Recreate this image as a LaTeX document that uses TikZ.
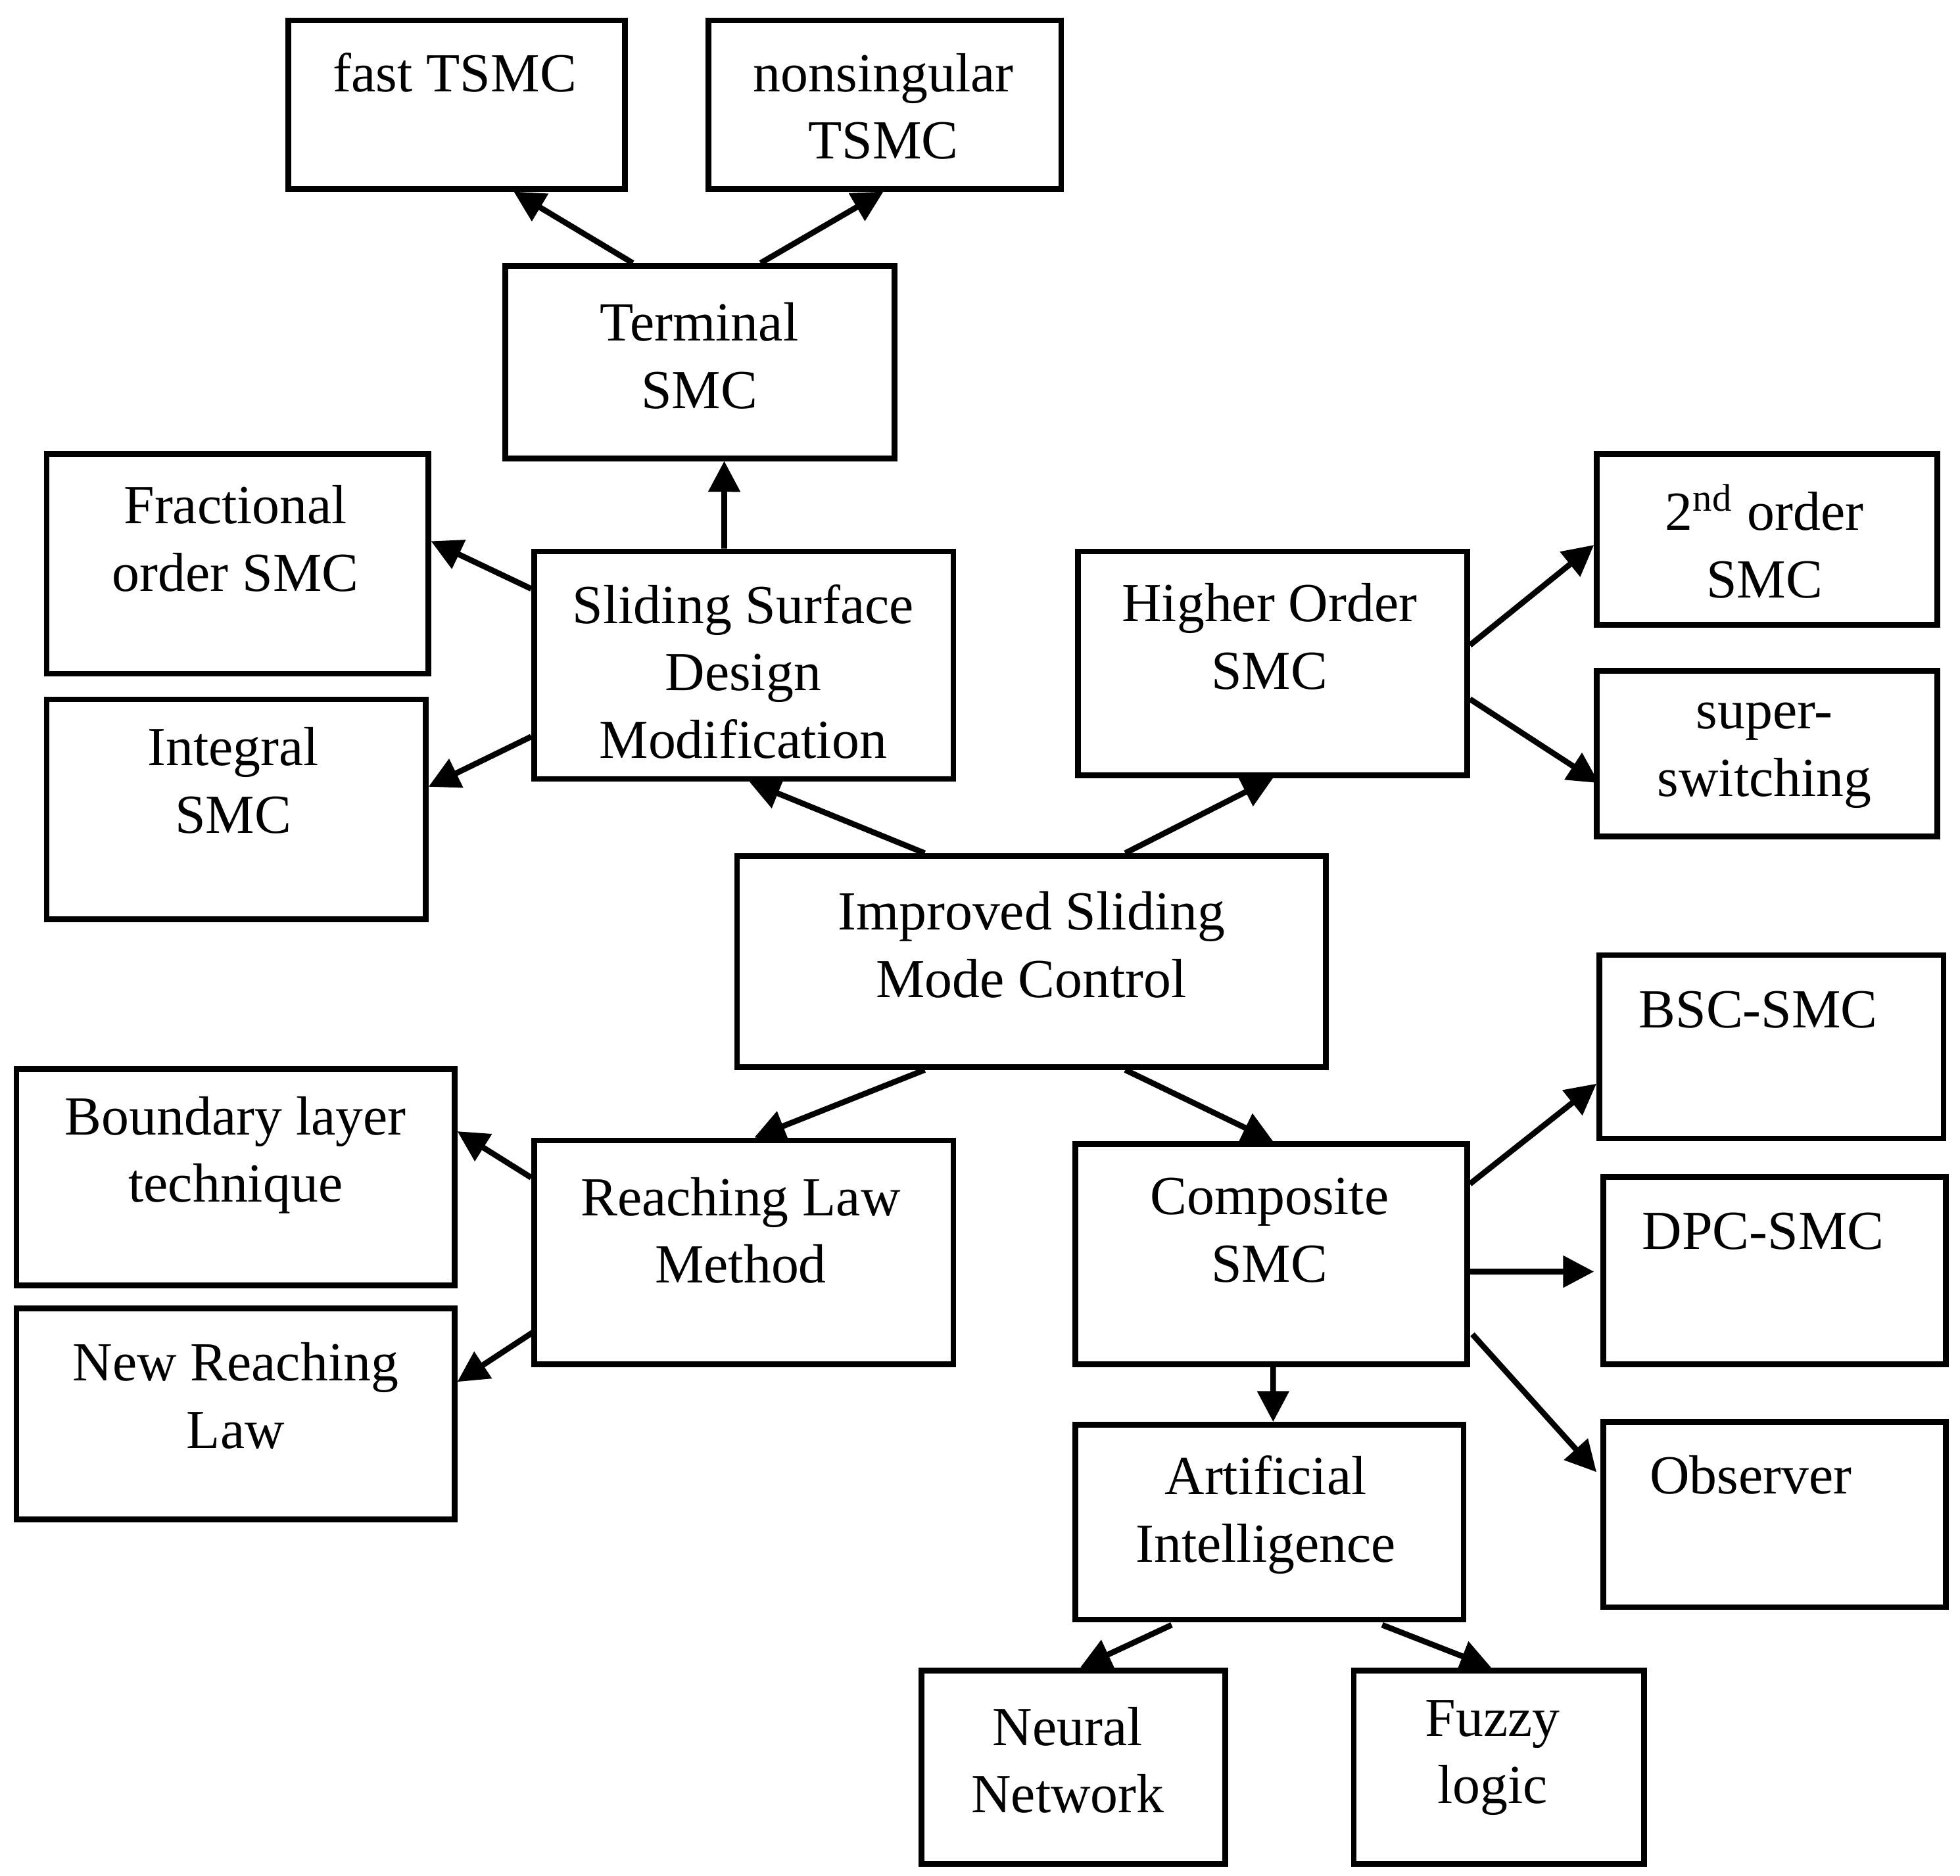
\documentclass[tikz,border=0pt]{standalone}
\usepackage{fontspec}
\setmainfont{Liberation Serif}
\usetikzlibrary{calc,arrows.meta}
\begin{document}
\begin{tikzpicture}[x=0.01cm,y=-0.01cm,
  box/.style={draw,line width=1.3pt,inner sep=0pt},
  txt/.style={align=center,font=\fontsize{12.5}{15.3}\selectfont,inner sep=0pt},
  arr/.style={line width=1.3pt,-{Triangle[length=7pt,width=7pt]}}]
\useasboundingbox (0,0) rectangle (1564,1497);
\newcommand\bx[6]{\node[box,minimum width=#4*0.01cm-1.3pt,minimum height=(#5-#3)*0.01cm-1.3pt] (#1) at ({(#2+#4)/2},{(#3+#5)/2}) {};}
% boxes: name, x1,y1,x2,y2
\node[box,minimum width=2.73cm-1.3pt,minimum height=1.39cm-1.3pt] (fast) at (364.5,83.5) {};
\node[box,minimum width=2.86cm-1.3pt,minimum height=1.39cm-1.3pt] (nons) at (706,83.5) {};
\node[box,minimum width=3.15cm-1.3pt,minimum height=1.58cm-1.3pt] (term) at (558.5,289) {};
\node[box,minimum width=3.09cm-1.3pt,minimum height=1.80cm-1.3pt] (frac) at (189.5,450) {};
\node[box,minimum width=3.39cm-1.3pt,minimum height=1.86cm-1.3pt] (slid) at (593.5,531) {};
\node[box,minimum width=3.07cm-1.3pt,minimum height=1.80cm-1.3pt] (integ) at (188.5,646) {};
\node[box,minimum width=3.15cm-1.3pt,minimum height=1.83cm-1.3pt] (high) at (1015.5,529.5) {};
\node[box,minimum width=2.76cm-1.3pt,minimum height=1.41cm-1.3pt] (sec) at (1410,430.5) {};
\node[box,minimum width=2.76cm-1.3pt,minimum height=1.37cm-1.3pt] (sup) at (1410,601.5) {};
\node[box,minimum width=4.74cm-1.3pt,minimum height=1.73cm-1.3pt] (imp) at (823,767.5) {};
\node[box,minimum width=2.79cm-1.3pt,minimum height=1.51cm-1.3pt] (bsc) at (1413.5,835.5) {};
\node[box,minimum width=3.54cm-1.3pt,minimum height=1.77cm-1.3pt] (bound) at (188,939.5) {};
\node[box,minimum width=3.39cm-1.3pt,minimum height=1.83cm-1.3pt] (reach) at (593.5,999.5) {};
\node[box,minimum width=3.17cm-1.3pt,minimum height=1.80cm-1.3pt] (comp) at (1014.5,1001) {};
\node[box,minimum width=2.78cm-1.3pt,minimum height=1.54cm-1.3pt] (dpc) at (1416,1014) {};
\node[box,minimum width=3.54cm-1.3pt,minimum height=1.73cm-1.3pt] (newr) at (188,1128.5) {};
\node[box,minimum width=3.14cm-1.3pt,minimum height=1.60cm-1.3pt] (ai) at (1013,1215) {};
\node[box,minimum width=2.78cm-1.3pt,minimum height=1.52cm-1.3pt] (obs) at (1416,1209) {};
\node[box,minimum width=2.47cm-1.3pt,minimum height=1.59cm-1.3pt] (neur) at (856.5,1410.5) {};
\node[box,minimum width=2.36cm-1.3pt,minimum height=1.59cm-1.3pt] (fuzz) at (1196,1410.5) {};
% texts
\node[txt] at (363,58) {fast TSMC};
\node[txt] at (705,85) {nonsingular\\TSMC};
\node[txt] at (558,284) {Terminal\\SMC};
\node[txt] at (188,430) {Fractional\\order SMC};
\node[txt] at (593,536) {Sliding Surface\\Design\\Modification};
\node[txt] at (186,623) {Integral\\SMC};
\node[txt] at (1013,508) {Higher Order\\SMC};
\node[txt] at (1408,432) {2\textsuperscript{nd} order\\SMC};
\node[txt] at (1408,603) {super-\\switching};
\node[txt] at (823,754) {Improved Sliding\\Mode Control};
\node[txt] at (1403,806) {BSC-SMC};
\node[txt] at (188,922) {Boundary layer\\technique};
\node[txt] at (591,982) {Reaching Law\\Method};
\node[txt] at (1013,982) {Composite\\SMC};
\node[txt] at (1407,983) {DPC-SMC};
\node[txt] at (188,1114) {New Reaching\\Law};
\node[txt] at (1010,1209) {Artificial\\Intelligence};
\node[txt] at (1397,1177) {Observer};
\node[txt] at (852,1405) {Neural\\Network};
\node[txt] at (1191,1403) {Fuzzy\\logic};
% arrows
\draw[arr] ($(term.north west)+(104,0)$) -- ($(fast.north west)+(182,139)$);
\draw[arr] ($(term.north west)+(206,0)$) -- ($(nons.north west)+(142,139)$);
\draw[arr] ($(slid.north west)+(154,0)$) -- ($(term.north west)+(177,158)$);
\draw[arr] ($(slid.north west)+(0,32)$) -- ($(frac.north west)+(309,72)$);
\draw[arr] ($(slid.north west)+(0,150)$) -- ($(integ.north west)+(307,72)$);
\draw[arr] ($(imp.north west)+(152,0)$) -- ($(slid.north west)+(174,186)$);
\draw[arr] ($(imp.north west)+(312,0)$) -- ($(high.north west)+(158,183)$);
\draw[arr] ($(high.north west)+(315,77)$) -- ($(sec.north west)+(0,75)$);
\draw[arr] ($(high.north west)+(315,120)$) -- ($(sup.north west)+(4,92)$);
\draw[arr] ($(imp.north west)+(152,173)$) -- ($(reach.north west)+(178,0)$);
\draw[arr] ($(imp.north west)+(312,173)$) -- ($(comp.north west)+(160,0)$);
\draw[arr] ($(reach.north west)+(0,32)$) -- ($(bound.north west)+(354,52)$);
\draw[arr] ($(reach.north west)+(2,155)$) -- ($(newr.north west)+(354,61)$);
\draw[arr] ($(comp.north west)+(317,34)$) -- ($(bsc.north west)+(0,105)$);
\draw[arr] ($(comp.north west)+(314,104)$) -- ($(dpc.north west)+(-5,78)$);
\draw[arr] ($(comp.north west)+(319,154)$) -- ($(obs.north west)+(-3,42)$);
\draw[arr] ($(comp.north west)+(160,180)$) -- ($(ai.north west)+(160,0)$);
\draw[arr] ($(ai.north west)+(79,162)$) -- ($(neur.north west)+(129,0)$);
\draw[arr] ($(ai.north west)+(247,162)$) -- ($(fuzz.north west)+(112,0)$);
\end{tikzpicture}
\end{document}
